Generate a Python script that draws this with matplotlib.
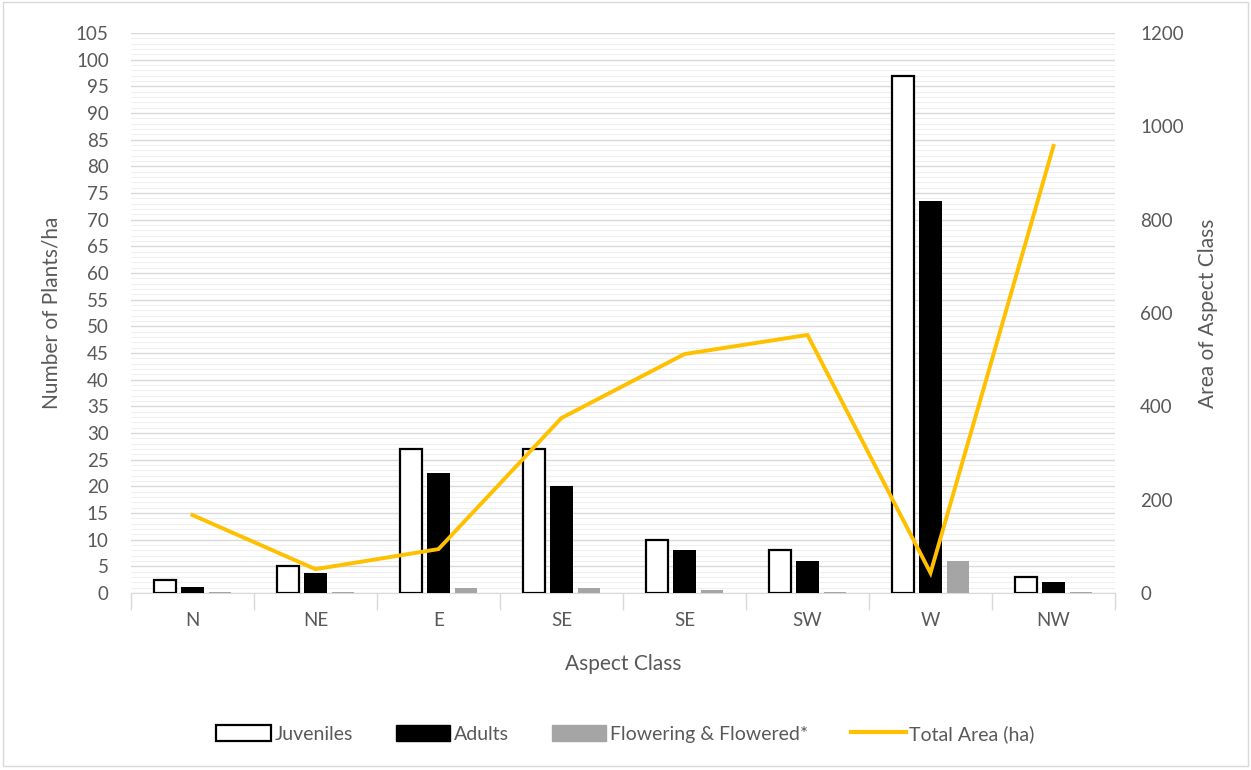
import matplotlib
matplotlib.use("Agg")
import matplotlib.pyplot as plt
import numpy as np
from matplotlib.ticker import MultipleLocator
from matplotlib.patches import Patch
from matplotlib.lines import Line2D

categories = ["N", "NE", "E", "SE", "SE", "SW", "W", "NW"]
juveniles = [2.5, 5, 27, 27, 10, 8, 97, 3]
adults = [1.2, 3.8, 22.5, 20, 8, 6, 73.5, 2]
flowering = [0.2, 0.2, 1, 1, 0.5, 0.2, 6, 0.2]
total_area = [167, 51, 94, 375, 512, 553, 43, 958]

plt.rcParams['font.family'] = ['Lato', 'DejaVu Sans']
txt = '#595959'

fig = plt.figure(figsize=(12.51, 7.7), dpi=100)
ax = fig.add_axes([0.1047, 0.2299, 0.7866, 0.7272])
x = np.arange(len(categories))
w = 0.18
off = 0.223
ax.bar(x - off, juveniles, w, facecolor='white', edgecolor='black', linewidth=1.6, zorder=3)
ax.bar(x, adults, w, facecolor='black', edgecolor='black', linewidth=0, zorder=3)
ax.bar(x + off, flowering, w, facecolor='#a5a5a5', linewidth=0, zorder=3)

ax.set_xlim(-0.5, len(categories) - 0.5)
ax.set_ylim(0, 105)
ax.yaxis.set_major_locator(MultipleLocator(5))
ax.yaxis.set_minor_locator(MultipleLocator(1))
ax.grid(axis='y', which='major', color='#d9d9d9', linewidth=1.0, zorder=0)
ax.grid(axis='y', which='minor', color='#f0f0f0', linewidth=0.8, zorder=0)
ax.set_axisbelow(True)
for s in ['top', 'right', 'left']:
    ax.spines[s].set_visible(False)
ax.spines['bottom'].set_color('#d9d9d9')
ax.set_xticks(x)
ax.set_xticklabels(categories)
ax.set_xticks(np.arange(-0.5, len(categories) + 0.5, 1), minor=True)
ax.tick_params(axis='x', which='major', length=0, pad=14, labelsize=13.5, labelcolor=txt)
ax.tick_params(axis='x', which='minor', length=12, color='#d9d9d9', width=1)
ax.tick_params(axis='y', which='both', length=0, labelsize=13.5, labelcolor=txt, pad=16)
ax.set_xlabel('Aspect Class', fontsize=15, color=txt, labelpad=18)
ax.set_ylabel('Number of Plants/ha', fontsize=15, color=txt, labelpad=10)

ax2 = ax.twinx()
ax2.plot(x, total_area, color='#FFC000', linewidth=2.8, zorder=4, solid_joinstyle='miter')
ax2.set_ylim(0, 1200)
ax2.yaxis.set_major_locator(MultipleLocator(200))
for s in ['top', 'right', 'left', 'bottom']:
    ax2.spines[s].set_visible(False)
ax2.tick_params(axis='y', length=0, labelsize=13.5, labelcolor=txt, pad=18)
ax2.set_ylabel('Area of Aspect Class', fontsize=15, color=txt, labelpad=10)

handles = [Patch(facecolor='white', edgecolor='black', linewidth=1.6),
           Patch(facecolor='black', edgecolor='black'),
           Patch(facecolor='#a5a5a5', edgecolor='#a5a5a5'),
           Line2D([0], [0], color='#FFC000', linewidth=3)]
labels = ['Juveniles', 'Adults', 'Flowering & Flowered*', 'Total Area (ha)']
leg = fig.legend(handles, labels, loc='center', bbox_to_anchor=(0.5, 0.047), ncol=4,
                 frameon=False, fontsize=14, handlelength=2.8, handleheight=0.9,
                 handletextpad=0.2, columnspacing=2.2)
for t in leg.get_texts():
    t.set_color(txt)

fig.patches.append(plt.Rectangle((0.002, 0.005), 0.996, 0.993, transform=fig.transFigure,
                                 fill=False, edgecolor='#d9d9d9', linewidth=1))
fig.savefig('out.png', dpi=100)
